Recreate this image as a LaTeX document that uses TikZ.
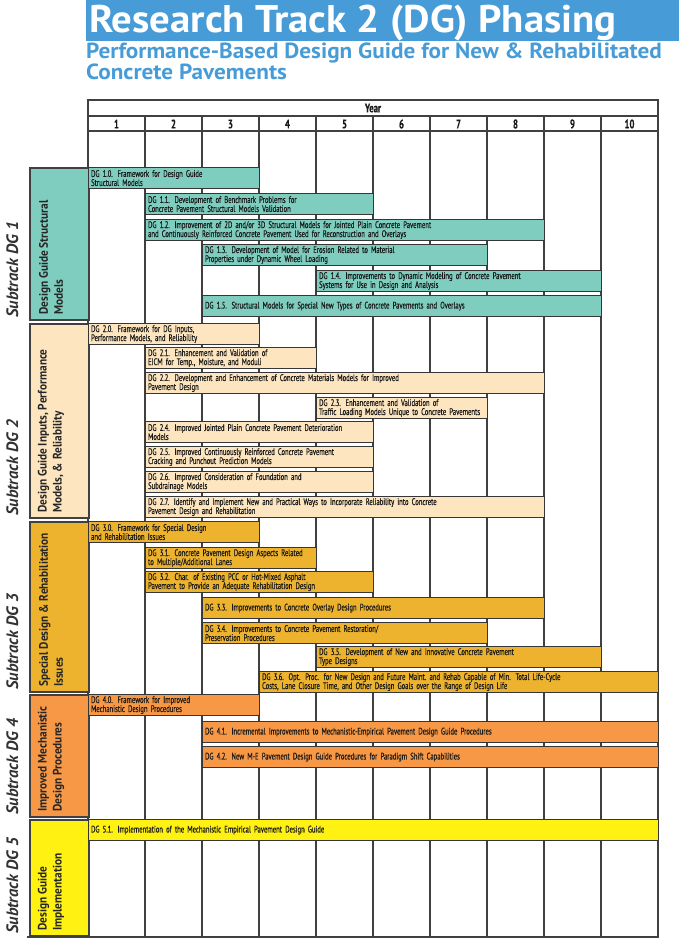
\documentclass[tikz,border=0pt]{standalone}
\usepackage{fontspec}
\setmainfont{PT Sans}
\newfontfamily\barfont[FakeStretch=0.70, FakeBold=0.4]{PT Sans}
\newfontfamily\boxfont[FakeStretch=0.92]{PT Sans}
\newfontfamily\headfont[FakeStretch=1.06]{PT Sans}
\usepackage{xcolor}
\usepackage{tikz}
\hyphenpenalty=10000

\definecolor{titleblue}{HTML}{479CD7}
\definecolor{gridgray}{HTML}{404040}
\definecolor{bargray}{HTML}{363636}
\definecolor{dgone}{HTML}{7ECDBF}
\definecolor{dgtwo}{HTML}{FDE5BF}
\definecolor{dgthree}{HTML}{EDB32E}
\definecolor{dgfour}{HTML}{F69846}
\definecolor{dgfive}{HTML}{FFF112}

\begin{document}
\begin{tikzpicture}[x=1pt, y=-1pt,
    gridline/.style={draw=gridgray, line width=1.8pt},
    bar/.style={draw=bargray, line width=1.2pt, anchor=north west, minimum height=21pt,
        inner xsep=2.5pt, inner ysep=1pt, align=left, text=black!90,
        font=\barfont\fontsize{9.5}{9}\selectfont},
    trackbox/.style={draw=gridgray, line width=1.6pt, anchor=north west, minimum width=59pt, inner sep=0pt},
    trackname/.style={rotate=90, anchor=west, align=left, inner sep=0pt, text=black!85,
        font=\boxfont\bfseries\fontsize{12.3}{15}\selectfont},
    subtrack/.style={rotate=90, anchor=base west, inner sep=0pt, text=black!80,
        font=\bfseries\itshape\fontsize{16.5}{16}\selectfont},
    yearhead/.style={font=\barfont\bfseries\fontsize{12.5}{12}\selectfont, text=black!90}]
    \useasboundingbox (0,0) rectangle (679,939);

    % title
    \fill[titleblue] (86,0) rectangle (679,41);
    \node[anchor=base west, inner sep=0pt, text=white, font=\headfont\bfseries\fontsize{38.5}{38}\selectfont]
        (title) at (89,33) {Research Track 2 (DG) Phasing};
    \node[anchor=north west, align=left, inner sep=0pt, text=titleblue, font=\headfont\bfseries\fontsize{21.9}{20.5}\selectfont]
        (subtitle) at (86,43) {Performance-Based Design Guide for New \& Rehabilitated\\Concrete Pavements};

    % year grid
    \draw[gridline] (88,100) rectangle (658,937);
    \draw[gridline] (88,116) -- (658,116);
    \draw[gridline] (88,131) -- (658,131);
    \draw[gridline] (27,937) -- (658,937);
    \foreach \k in {1,...,9}
        \draw[gridline] (88+57*\k,116) -- (88+57*\k,937);
    \node[yearhead] (year) at (373,108) {Year};
    \foreach \k in {1,...,10}
        \node[yearhead] (yr\k) at (59.5+57*\k,124) {\k};

    % subtracks
    \foreach \s/\ya/\yb/\col/\lbl in {
        1/167/319/dgone/{Design Guide Structural\\Models},
        2/323/517/dgtwo/{Design Guide Inputs, Performance\\Models, \& Reliability},
        3/521/691/dgthree/{Special Design \& Rehabilitation\\Issues},
        4/694/816/dgfour/{Improved Mechanistic\\Design Procedures},
        5/819/935/dgfive/{Design Guide\\Implementation}} {
        \pgfmathsetmacro\h{\yb-\ya}
        \node[trackbox, fill=\col, minimum height=\h pt] (track\s) at (29,\ya) {};
        \node[trackname] (name\s) at (51,\yb-4) {\lbl};
        \node[subtrack] (sub\s) at (18,\yb-1) {Subtrack DG \s};
    }

    % project bars
    \foreach \n/\col/\a/\b/\yt/\txt in {
        10/dgone/1/3/167/{DG 1.0. Framework for Design Guide\\Structural Models},
        11/dgone/2/5/193/{DG 1.1. Development of Benchmark Problems for\\Concrete Pavement Structural Models Validation},
        12/dgone/2/8/219/{DG 1.2. Improvement of 2D and/or 3D Structural Models for Jointed Plain Concrete Pavement\\and Continuously Reinforced Concrete Pavement Used for Reconstruction and Overlays},
        13/dgone/3/7/244/{DG 1.3. Development of Model for Erosion Related to Material\\Properties under Dynamic Wheel Loading},
        14/dgone/5/9/270/{DG 1.4. Improvements to Dynamic Modeling of Concrete Pavement\\Systems for Use in Design and Analysis},
        15/dgone/3/9/295/{DG 1.5. Structural Models for Special New Types of Concrete Pavements and Overlays},
        20/dgtwo/1/3/323/{DG 2.0. Framework for DG Inputs,\\Performance Models, and Reliability},
        21/dgtwo/2/4/347/{DG 2.1. Enhancement and Validation of\\EICM for Temp., Moisture, and Moduli},
        22/dgtwo/2/8/372/{DG 2.2. Development and Enhancement of Concrete Materials Models for Improved\\Pavement Design},
        23/dgtwo/5/7/397/{DG 2.3. Enhancement and Validation of\\Traffic Loading Models Unique to Concrete Pavements},
        24/dgtwo/2/5/421/{DG 2.4. Improved Jointed Plain Concrete Pavement Deterioration\\Models},
        25/dgtwo/2/5/446/{DG 2.5. Improved Continuously Reinforced Concrete Pavement\\Cracking and Punchout Prediction Models},
        26/dgtwo/2/5/471/{DG 2.6. Improved Consideration of Foundation and\\Subdrainage Models},
        27/dgtwo/2/8/496/{DG 2.7. Identify and Implement New and Practical Ways to Incorporate Reliability into Concrete\\Pavement Design and Rehabilitation},
        30/dgthree/1/3/521/{DG 3.0. Framework for Special Design\\and Rehabilitation Issues},
        31/dgthree/2/4/547/{DG 3.1. Concrete Pavement Design Aspects Related\\to Multiple/Additional Lanes},
        32/dgthree/2/5/571/{DG 3.2. Char. of Existing PCC or Hot-Mixed Asphalt\\Pavement to Provide an Adequate Rehabilitation Design},
        33/dgthree/3/8/597/{DG 3.3. Improvements to Concrete Overlay Design Procedures},
        34/dgthree/3/7/622/{DG 3.4. Improvements to Concrete Pavement Restoration/\\Preservation Procedures},
        35/dgthree/5/9/646/{DG 3.5. Development of New and Innovative Concrete Pavement\\Type Designs},
        36/dgthree/4/10/671/{DG 3.6. Opt. Proc. for New Design and Future Maint.\ and Rehab Capable of Min. Total Life-Cycle\\Costs, Lane Closure Time, and Other Design Goals over the Range of Design Life},
        40/dgfour/1/3/694/{DG 4.0. Framework for Improved\\Mechanistic Design Procedures},
        41/dgfour/3/10/721/{DG 4.1. Incremental Improvements to Mechanistic-Empirical Pavement Design Guide Procedures},
        42/dgfour/3/10/746/{DG 4.2. New M-E Pavement Design Guide Procedures for Paradigm Shift Capabilities},
        51/dgfive/1/10/819/{DG 5.1. Implementation of the Mechanistic Empirical Pavement Design Guide}} {
        \pgfmathsetmacro\w{57*(\b-\a+1)}
        \pgfmathsetmacro\tw{\w-5}
        \node[bar, fill=\col, minimum width=\w pt, text width=\tw pt] (dg\n) at (31+57*\a,\yt) {\txt};
    }
\end{tikzpicture}
\end{document}
